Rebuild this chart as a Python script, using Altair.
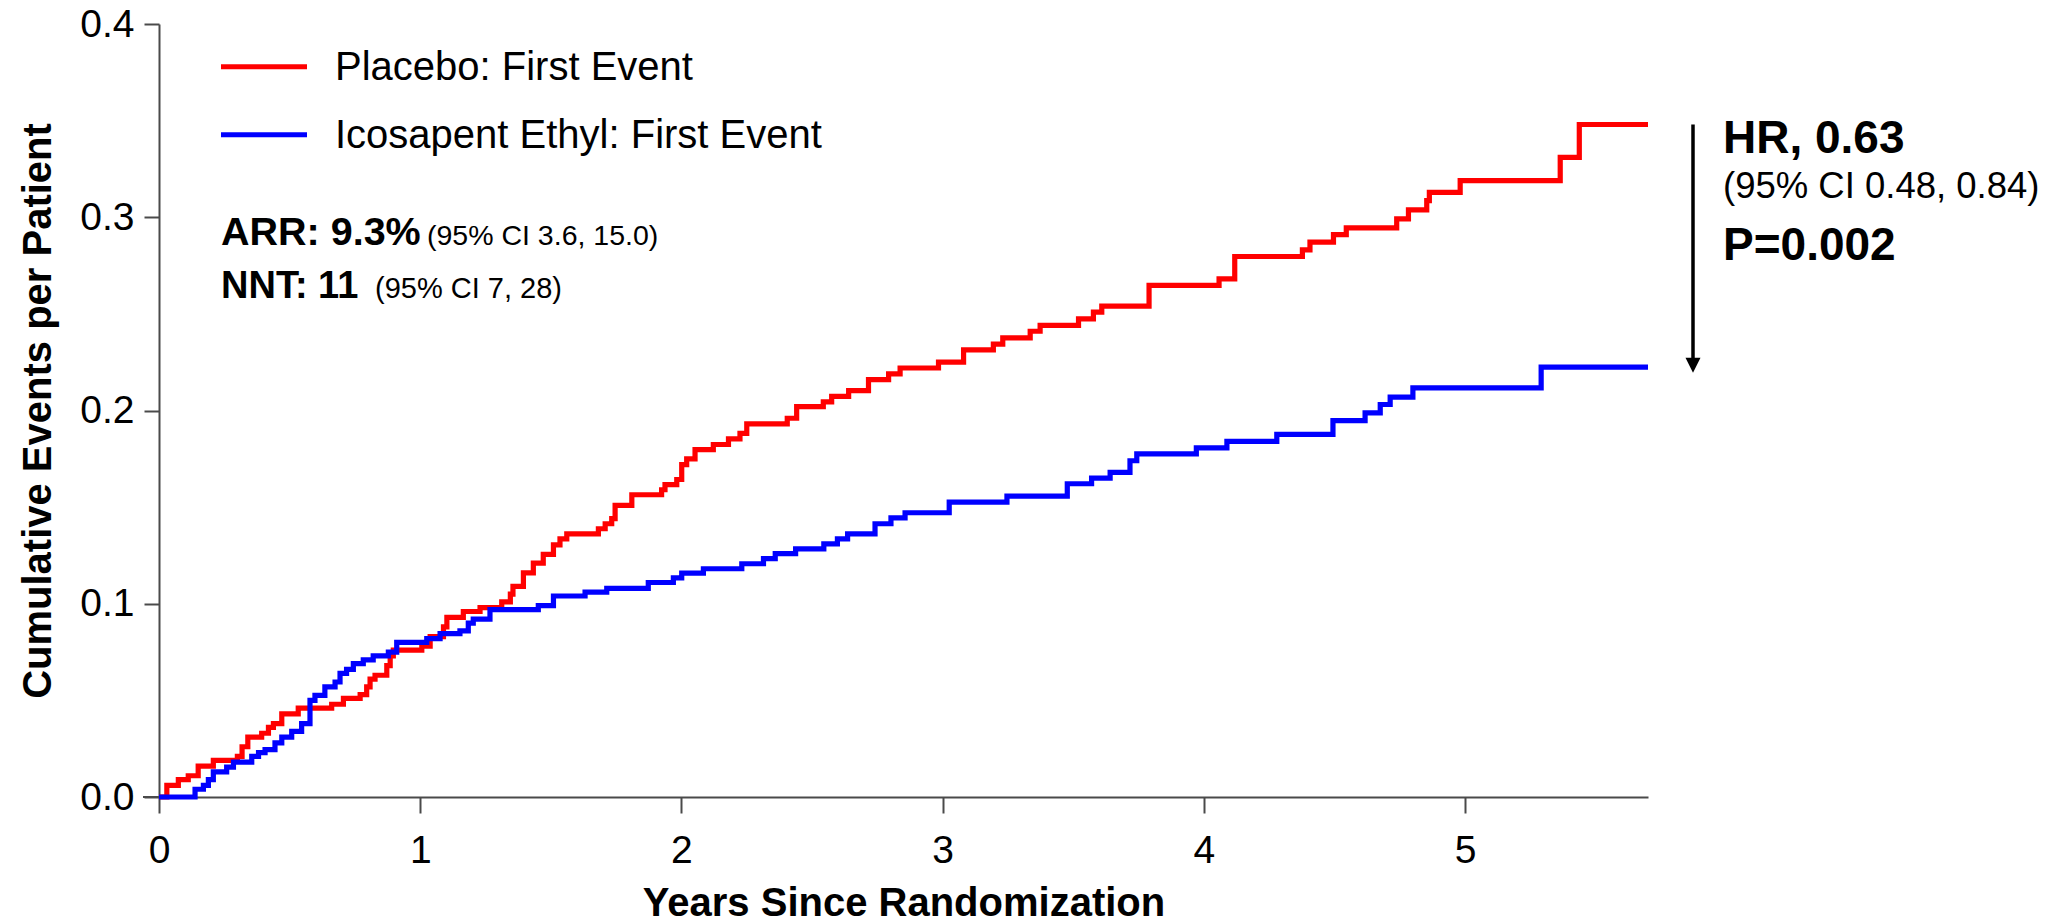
import altair as alt
import pandas as pd

# Cumulative first events per patient (step curves), years since randomization
placebo_years = [
    0.000, 0.030, 0.074, 0.112, 0.150, 0.208, 0.300, 0.318, 0.340, 0.393,
    0.419, 0.438, 0.470, 0.533, 0.661, 0.706, 0.770, 0.795, 0.808, 0.827,
    0.872, 0.885, 0.897, 1.006, 1.038, 1.089, 1.102, 1.165, 1.229, 1.312,
    1.345, 1.355, 1.395, 1.433, 1.471, 1.510, 1.535, 1.561, 1.682, 1.708,
    1.733, 1.746, 1.810, 1.924, 1.937, 1.982, 2.001, 2.020, 2.052, 2.122,
    2.180, 2.224, 2.250, 2.405, 2.441, 2.543, 2.575, 2.640, 2.716, 2.793,
    2.837, 2.984, 3.080, 3.194, 3.230, 3.335, 3.373, 3.520, 3.577, 3.609,
    3.790, 4.058, 4.118, 4.377, 4.406, 4.496, 4.545, 4.738, 4.783, 4.853,
    4.863, 4.981, 5.364, 5.437, 5.700,
]
placebo_values = [
    0.000, 0.006, 0.009, 0.011, 0.016, 0.019, 0.021, 0.026, 0.031, 0.033,
    0.036, 0.038, 0.043, 0.046, 0.048, 0.051, 0.053, 0.057, 0.061, 0.063,
    0.068, 0.073, 0.076, 0.078, 0.083, 0.088, 0.093, 0.096, 0.098, 0.101,
    0.105, 0.109, 0.116, 0.121, 0.1255, 0.1305, 0.1336, 0.1362, 0.1388, 0.1414,
    0.144, 0.1509, 0.1564, 0.159, 0.1616, 0.1643, 0.172, 0.175, 0.1798, 0.1824,
    0.1853, 0.1882, 0.1931, 0.196, 0.202, 0.2045, 0.2073, 0.2103, 0.216, 0.219,
    0.222, 0.225, 0.2314, 0.2343, 0.2376, 0.241, 0.244, 0.2474, 0.2509, 0.254,
    0.2647, 0.2681, 0.2797, 0.2831, 0.2871, 0.291, 0.2945, 0.2992, 0.3038, 0.3086,
    0.3129, 0.319, 0.331, 0.348, 0.348,
]

icosapent_years = [
    0.000, 0.138, 0.170, 0.189, 0.208, 0.259, 0.285, 0.355, 0.381, 0.406,
    0.444, 0.470, 0.508, 0.546, 0.578, 0.597, 0.635, 0.674, 0.693, 0.718,
    0.744, 0.782, 0.820, 0.878, 0.910, 1.025, 1.076, 1.152, 1.184, 1.203,
    1.267, 1.452, 1.510, 1.631, 1.714, 1.873, 1.969, 2.001, 2.084, 2.231,
    2.314, 2.359, 2.437, 2.545, 2.597, 2.636, 2.741, 2.802, 2.856, 3.025,
    3.246, 3.477, 3.570, 3.641, 3.717, 3.743, 3.971, 4.088, 4.279, 4.494,
    4.617, 4.675, 4.713, 4.800, 5.291, 5.700,
]
icosapent_values = [
    0.000, 0.004, 0.006, 0.009, 0.013, 0.0155, 0.018, 0.021, 0.023, 0.0245,
    0.028, 0.031, 0.034, 0.038, 0.050, 0.0526, 0.057, 0.0595, 0.064, 0.066,
    0.069, 0.071, 0.073, 0.075, 0.080, 0.082, 0.0845, 0.086, 0.090, 0.092,
    0.097, 0.099, 0.104, 0.106, 0.108, 0.111, 0.1134, 0.1158, 0.1181, 0.1207,
    0.1233, 0.1259, 0.1284, 0.131, 0.1336, 0.1362, 0.1414, 0.1444, 0.1471, 0.1526,
    0.1557, 0.1621, 0.165, 0.168, 0.174, 0.1776, 0.1807, 0.184, 0.1876, 0.1948,
    0.1988, 0.2031, 0.2069, 0.2117, 0.2224, 0.2224,
]

series_names = ["Placebo: First Event", "Icosapent Ethyl: First Event"]
series_colors = ["#ff0000", "#0000ff"]
x_ticks = [0, 1, 2, 3, 4, 5]
y_ticks = [0.0, 0.1, 0.2, 0.3, 0.4]

PLOT_W, PLOT_H = 1489, 773
FONT = "Liberation Sans"
AXIS_COLOR = "#4a4a4a"
LINE_W = 5.2

placebo = pd.DataFrame({"year": placebo_years, "events": placebo_values})
icosapent = pd.DataFrame({"year": icosapent_years, "events": icosapent_values})
gap = pd.DataFrame({"top": [placebo_values[-1]], "bottom": [icosapent_values[-1]]})
one_row = alt.Data(values=[{}])

x_scale = alt.Scale(domain=[0, 5.7], nice=False, zero=False)
y_scale = alt.Scale(domain=[0, 0.4], nice=False, zero=False)

x_axis = alt.Axis(
    values=x_ticks, format="d", title="Years Since Randomization",
    grid=False, tickSize=16, tickWidth=2, tickColor=AXIS_COLOR,
    domainColor=AXIS_COLOR, domainWidth=2,
    labelFont=FONT, labelFontSize=39, labelColor="black", labelPadding=18,
    labelFlush=False, labelOverlap=False,
    titleFont=FONT, titleFontSize=40, titleFontWeight="bold", titleColor="black",
    titleY=118, titleBaseline="alphabetic",
)
y_axis = alt.Axis(
    values=y_ticks, format=".1f", title="Cumulative Events per Patient",
    grid=False, tickSize=15, tickWidth=2, tickColor=AXIS_COLOR,
    domainColor=AXIS_COLOR, domainWidth=2,
    labelFont=FONT, labelFontSize=39, labelColor="black", labelPadding=10,
    labelFlush=False, labelOverlap=False,
    titleFont=FONT, titleFontSize=40, titleFontWeight="bold", titleColor="black",
    titleAngle=270, titleX=-109, titleY=PLOT_H / 2, titleBaseline="alphabetic",
    titleAlign="center",
)

X = alt.X("year:Q", scale=x_scale, axis=x_axis)
Y = alt.Y("events:Q", scale=y_scale, axis=y_axis)

placebo_line = alt.Chart(placebo).mark_line(
    interpolate="step-after", color=series_colors[0], strokeWidth=LINE_W
).encode(x=X, y=Y)

icosapent_line = alt.Chart(icosapent).mark_line(
    interpolate="step-after", color=series_colors[1], strokeWidth=LINE_W
).encode(x=X, y=Y)

# short extension of the x axis line to the left of the y axis
axis_stub = alt.Chart(one_row).mark_rule(color=AXIS_COLOR, strokeWidth=2).encode(
    x=alt.value(-16), x2=alt.value(0), y=alt.value(PLOT_H)
)


def text(label, x, y, size, weight="normal"):
    return alt.Chart(one_row).mark_text(
        text=label, align="left", baseline="alphabetic", font=FONT,
        fontSize=size, fontWeight=weight, color="black",
    ).encode(x=alt.value(x), y=alt.value(y))


# legend
legend = []
for i, (name, col) in enumerate(zip(series_names, series_colors)):
    ly = 42.7 + i * 68
    legend.append(
        alt.Chart(one_row).mark_rule(color=col, strokeWidth=5).encode(
            x=alt.value(62), x2=alt.value(148), y=alt.value(ly)
        )
    )
    legend.append(text(name, 176, 55.5 + i * 68, 40))

stats = [
    text("ARR: 9.3%", 62, 221, 39.5, "bold"),
    text("(95% CI 3.6, 15.0)", 268, 221, 28.5),
    text("NNT: 11", 62, 274, 38, "bold"),
    text("(95% CI 7, 28)", 216, 274, 29),
    text("HR, 0.63", 1564, 129, 46, "bold"),
    text("(95% CI 0.48, 0.84)", 1564, 174, 36.5),
    text("P=0.002", 1564, 236, 46, "bold"),
]

# arrow from the placebo end level down to the icosapent end level
arrow_shaft = alt.Chart(gap).mark_rule(color="black", strokeWidth=3.5).encode(
    x=alt.value(1534),
    y=alt.Y("top:Q", scale=y_scale, axis=y_axis),
    y2="bottom:Q",
)
arrow_head = alt.Chart(gap).mark_point(
    shape="M-1,-1L1,-1L0,1Z", size=225, filled=True, color="black",
    opacity=1, strokeWidth=0, yOffset=-2,
).encode(x=alt.value(1534), y=alt.Y("bottom:Q", scale=y_scale, axis=y_axis))

chart = alt.layer(
    placebo_line, icosapent_line, axis_stub, *legend, *stats, arrow_shaft, arrow_head
).properties(
    width=PLOT_W,
    height=PLOT_H,
    autosize=alt.AutoSizeParams(type="none"),
    padding={"left": 159, "top": 24, "right": 399, "bottom": 127},
    background="white",
).configure_view(stroke=None)

chart.save("out.html", embed_options={"renderer": "svg", "actions": False})
